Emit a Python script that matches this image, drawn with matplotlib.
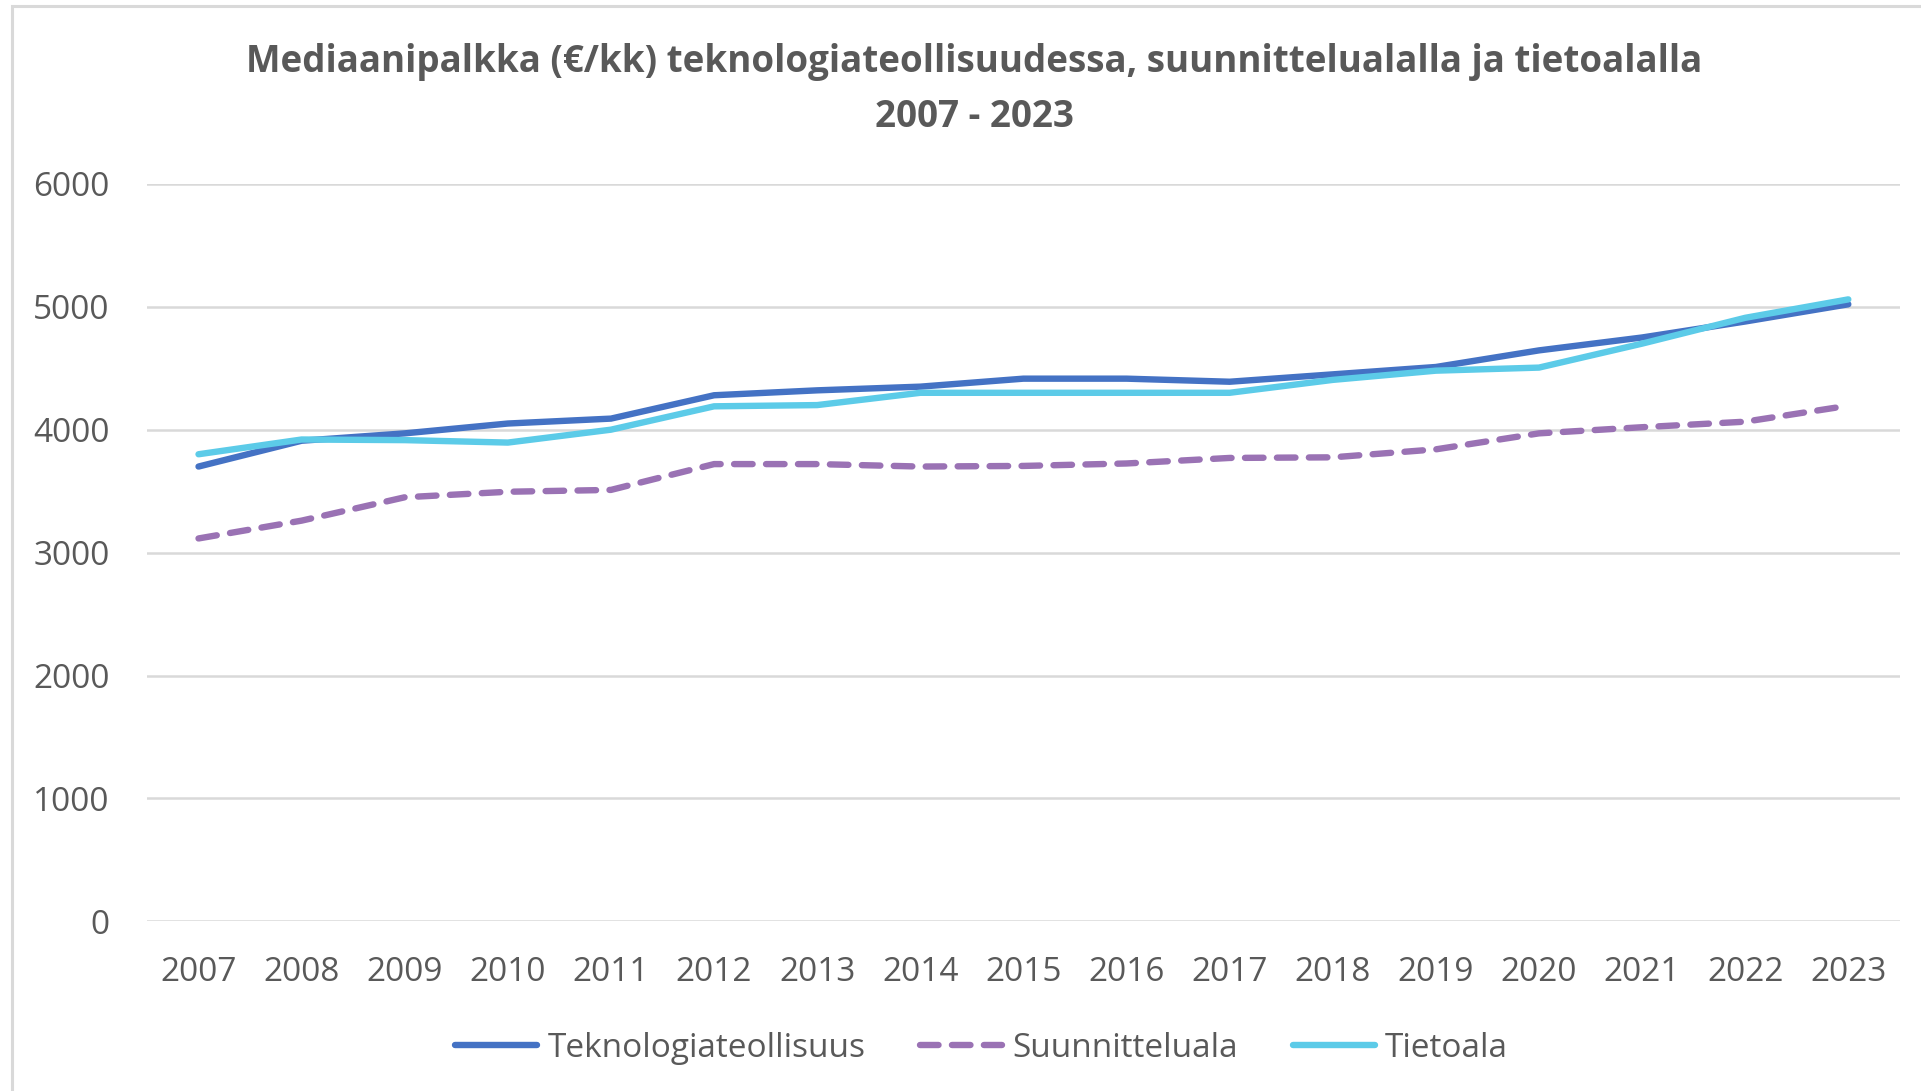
#!/usr/bin/env python3
'''
Mediaanipalkka (e/kk) teknologiateollisuudessa, suunnittelualalla ja tietoalalla 2007 - 2023
Excel-tyylinen viivakaavio matplotlibilla.
'''
import matplotlib
matplotlib.use('Agg')
import matplotlib.pyplot as plt
from matplotlib.patches import Rectangle

years = ['2007', '2008', '2009', '2010', '2011', '2012', '2013', '2014', '2015',
         '2016', '2017', '2018', '2019', '2020', '2021', '2022', '2023']
teknologia = [3700, 3910, 3970, 4050, 4090, 4280, 4320, 4350, 4415,
              4415, 4390, 4450, 4510, 4645, 4750, 4880, 5020]
suunnittelu = [3115, 3260, 3450, 3495, 3510, 3720, 3720, 3700, 3705,
               3725, 3770, 3775, 3840, 3970, 4020, 4065, 4195]
tieto = [3800, 3920, 3915, 3895, 4000, 4190, 4200, 4300, 4300,
         4300, 4300, 4405, 4480, 4505, 4700, 4910, 5060]
y_ticks = [0, 1000, 2000, 3000, 4000, 5000, 6000]

text_color = '#595959'
grid_color = '#D9D9D9'
plt.rcParams['font.family'] = ['Open Sans', 'DejaVu Sans']


def main():
    fig = plt.figure(figsize=(19.21, 10.91), dpi=100)
    ax = fig.add_axes([0.0765, 0.1555, 0.9125, 0.676])

    # kaavion reunus (oikea ja ala jaavat kuvan ulkopuolelle)
    fig.patches.append(Rectangle((12 / 1921, -0.05), 1.1, 1 - 6 / 1091 + 0.05,
                                 transform=fig.transFigure, fill=False,
                                 edgecolor=grid_color, linewidth=2.2))

    lw = 4.6
    x = list(range(len(years)))
    ax.plot(x, teknologia, color='#4472C4', lw=lw,
            solid_capstyle='round', solid_joinstyle='round',
            label='Teknologiateollisuus', zorder=3)
    ax.plot(x, suunnittelu, color='#9A72B4', lw=lw, dashes=(2.9, 2.1),
            dash_capstyle='round', dash_joinstyle='round',
            label='Suunnitteluala', zorder=3)
    ax.plot(x, tieto, color='#5CCBE8', lw=lw,
            solid_capstyle='round', solid_joinstyle='round',
            label='Tietoala', zorder=3)

    ax.set_xlim(-0.5, len(years) - 0.5)
    ax.set_ylim(0, 6000)
    ax.set_xticks(x)
    ax.set_xticklabels(years)
    ax.set_yticks(y_ticks)
    ax.yaxis.grid(True, color=grid_color, linewidth=1.8)
    ax.set_axisbelow(True)
    for s in ax.spines.values():
        s.set_visible(False)
    ax.tick_params(axis='both', length=0, labelsize=24, colors=text_color)
    ax.tick_params(axis='y', pad=27)
    ax.tick_params(axis='x', pad=25)

    fig.text(0.507, 0.918,
             'Mediaanipalkka (€/kk) teknologiateollisuudessa, suunnittelualalla ja tietoalalla\n2007 - 2023',
             ha='center', va='center', fontsize=26.5, fontweight='bold',
             color=text_color, linespacing=1.6)

    leg = fig.legend(loc='center', bbox_to_anchor=(0.511, 0.039), ncol=3,
                     frameon=False, fontsize=24, handlelength=2.46,
                     handletextpad=0.3, columnspacing=1.65)
    for t in leg.get_texts():
        t.set_color(text_color)

    fig.savefig('out.png', dpi=100, facecolor='white')


if __name__ == "__main__":
    main()
